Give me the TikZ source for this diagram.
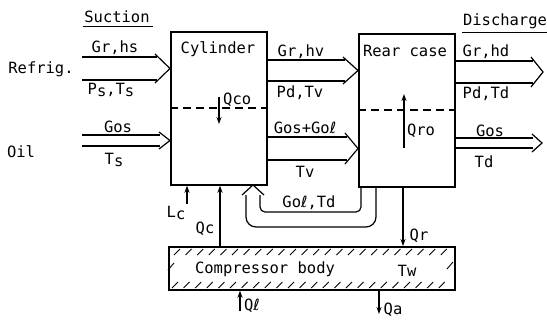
\documentclass[tikz,border=0pt]{standalone}
\usepackage{fontspec}
\setmainfont{DejaVu Sans Mono}
\newfontfamily\ellfont{DejaVu Sans}
\usetikzlibrary{arrows.meta}
\newcommand{\lo}[1]{\raisebox{-2pt}{#1}}
\newcommand{\Ell}{{\ellfont ℓ}}
\begin{document}
\begin{tikzpicture}[x=1pt,y=-1pt,
  box/.style={draw,line width=1.7pt,inner sep=0pt,anchor=north west},
  flow/.style={line width=1.2pt,line join=miter},
  heat/.style={line width=1.1pt,-{Stealth[length=7pt,width=5pt]}},
  lbl/.style={inner sep=0pt,font=\fontsize{15.5}{15.5}\selectfont},
  sepline/.style={line width=1.6pt,dash pattern=on 8pt off 5pt},
  hatch/.style={line width=0.9pt}]
\useasboundingbox (0,0) rectangle (547,322);
% boxes
\node[box,minimum width=96pt,minimum height=153pt] (cyl) at (170,31) {};
\node[box,minimum width=96pt,minimum height=153pt] (rear) at (358,33) {};
\node[box,minimum width=286pt,minimum height=43pt] (body) at (168,246) {};
\node[lbl] (cyllbl) at (218,49) {Cylinder};
\node[lbl] (rearlbl) at (405,51) {Rear case};
% dashed separators
\draw[sepline] (cyl.west |- 0,108) -- (cyl.east |- 0,108);
\draw[sepline] (rear.west |- 0,110) -- (rear.east |- 0,110);
% headings
\node[lbl] (suc) at (117,17) {Suction};
\draw[line width=1pt] (suc.south west) ++(-1,3) -- ++(70,0);
\node[lbl] (dis) at (505,21) {Discharge};
\draw[line width=1pt] (dis.south west) ++(-1,4) -- ++(90,0);
\node[lbl] (ref) at (41,69) {Refrig.};
\node[lbl] (oil) at (21,152) {Oil};
% refrigerant in
\coordinate (rin) at (82,68.5);
\draw[flow] (82,57) -- (157,57) (82,80) -- (157,80);
\draw[flow] (155,54) -- (cyl.west |- rin) -- (155,83);
\node[lbl] (grhs) at (115,48) {Gr,hs};
\node[lbl] (psts) at (111,90) {P\lo{s},T\lo{s}};
% oil in
\coordinate (oin) at (82,140.5);
\draw[flow] (82,135) -- (160,135) (82,146) -- (160,146);
\draw[flow] (159,132) -- (cyl.west |- oin) -- (159,149);
\node[lbl] (gos1) at (118,127) {Gos};
\node[lbl] (ts1) at (114,160) {T\lo{s}};
% cylinder -> rear case refrigerant
\coordinate (rmid) at (300,70.5);
\draw[flow] (cyl.east |- 0,60) -- (345,60) (cyl.east |- 0,81) -- (345,81);
\draw[flow] (343,57) -- (rear.west |- rmid) -- (343,84);
\node[lbl] (grhv) at (301,52) {Gr,hv};
\node[lbl] (pdtv) at (300,93) {Pd,Tv};
% cylinder -> rear case oil
\coordinate (omid) at (300,148.5);
\draw[flow] (cyl.east |- 0,137) -- (347,137) (cyl.east |- 0,160) -- (347,160);
\draw[flow] (345,133) -- (rear.west |- omid) -- (345,164);
\node[lbl] (gosgol) at (305,128) {Gos+Go\Ell};
\node[lbl] (tv) at (305,172) {Tv};
% discharge refrigerant
\coordinate (dtip) at (543,72);
\draw[flow] (rear.east |- 0,61) -- (533,61) (rear.east |- 0,83) -- (533,83);
\draw[flow] (531,57) -- (dtip) -- (531,87);
\node[lbl] (grhd) at (486,52) {Gr,hd};
\node[lbl] (pdtd) at (486,94) {Pd,Td};
% discharge oil
\coordinate (otip) at (542,143);
\draw[flow] (rear.east |- 0,138) -- (533,138) (rear.east |- 0,148) -- (533,148);
\draw[flow] (532,134) -- (otip) -- (532,152);
\node[lbl] (gos2) at (490,131) {Gos};
\node[lbl] (td2) at (484,162) {Td};
% internal heat flows
\coordinate (qcotop) at (219,97);
\draw[heat] (qcotop) -- (219,124);
\node[lbl,anchor=west] (qco) at (223,100) {Qco};
\coordinate (qrobot) at (404,148);
\draw[heat] (qrobot) -- (404,94);
\node[lbl] (qro) at (421,131) {Qro};
% oil return loop
\draw[flow,rounded corners=10pt] (rear.south -| 376,0) -- (376,227) -- (246,227) -- (246,195);
\draw[flow,rounded corners=5pt] (rear.south -| 361,0) -- (361,212) -- (260,212) -- (260,195);
\coordinate (rtip) at (253,185);
\draw[flow] (242,195) -- (rtip) -- (264,195);
\node[lbl] (golTd) at (309,203) {Go\Ell,Td};
% Lc, Qc, Qr
\coordinate (lc) at (187,204);
\draw[heat] (lc) -- (lc |- cyl.south);
\node[lbl] (lcl) at (176,213) {L\lo{c}};
\coordinate (qcx) at (220,0);
\draw[heat] (body.north -| qcx) -- (cyl.south -| qcx);
\node[lbl] (qcl) at (205,229) {Qc};
\coordinate (qrx) at (403,0);
\draw[heat] (rear.south -| qrx) -- (body.north -| qrx);
\node[lbl] (qrl) at (419,236) {Qr};
% body labels
\node[lbl] (cb) at (265,269) {Compressor body};
\node[lbl] (tw) at (407,271) {Tw};
% Ql, Qa
\coordinate (ql) at (240,311);
\draw[heat] (ql) -- (ql |- body.south);
\node[lbl] (qll) at (252,306) {Q\Ell};
\coordinate (qax) at (379,0);
\coordinate (qa) at (379,314);
\draw[heat] (body.south -| qax) -- (qa);
\node[lbl] (qal) at (393,310) {Qa};
% hatching
\foreach \k in {0,...,23}{
  \pgfmathsetmacro{\hx}{174+11.6*\k}
  \draw[hatch] (\hx,255) -- (\hx+6,249);
  \draw[hatch] (\hx-2,288) -- (\hx+4,282);
}
\draw[hatch] (168,270) -- (174,263);
\draw[hatch] (447,269) -- (453,262);
\end{tikzpicture}
\end{document}
